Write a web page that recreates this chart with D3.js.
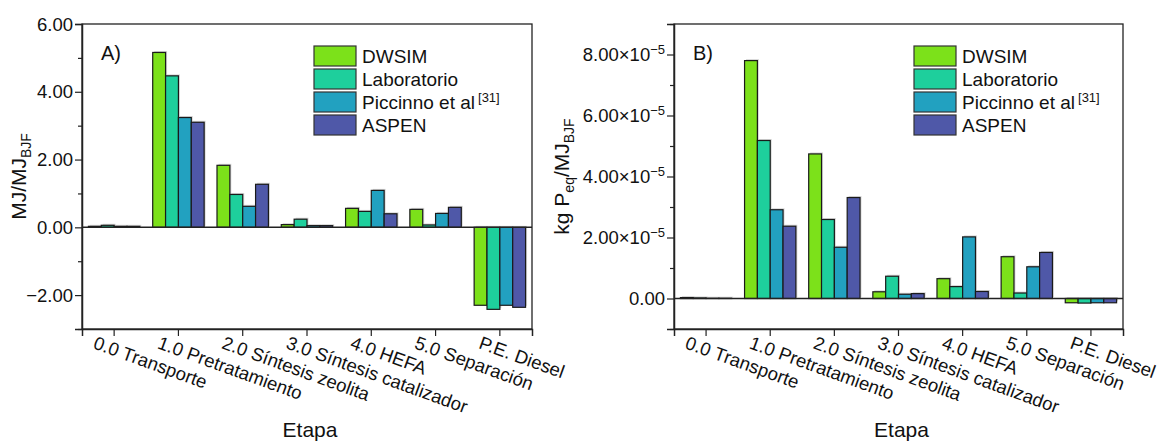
<!DOCTYPE html>
<html><head><meta charset="utf-8">
<script src="https://cdn.jsdelivr.net/npm/d3@7"></script>
<style>
body{margin:0;background:#fff;}
text{font-family:"Liberation Sans",Arial,sans-serif;fill:#111;}
</style></head>
<body><svg id="c" width="1159" height="441"></svg>
<script>
const categories = ["0.0 Transporte","1.0 Pretratamiento","2.0 Síntesis zeolita","3.0 Síntesis catalizador","4.0 HEFA","5.0 Separación","P.E. Diesel"];
const seriesNames = ["DWSIM","Laboratorio","Piccinno et al","ASPEN"];
const seriesColors = ["#7ce11a","#1ecf9c","#22a1c0","#4f58a8"];
// Panel A: MJ/MJ_BJF
const energyDWSIM = [0.03, 5.16, 1.83, 0.08, 0.56, 0.53, -2.30];
const energyLab   = [0.06, 4.47, 0.97, 0.24, 0.47, 0.07, -2.42];
const energyPicc  = [0.03, 3.24, 0.62, 0.05, 1.09, 0.41, -2.30];
const energyAspen = [0.03, 3.10, 1.27, 0.05, 0.40, 0.59, -2.36];
// Panel B: kg P_eq / MJ_BJF (units of 1e-5)
const phosDWSIM = [0.03, 7.80, 4.74, 0.22, 0.65, 1.37, -0.14];
const phosLab   = [0.02, 5.18, 2.59, 0.73, 0.39, 0.18, -0.15];
const phosPicc  = [0.01, 2.91, 1.68, 0.14, 2.02, 1.04, -0.14];
const phosAspen = [0.01, 2.37, 3.31, 0.16, 0.23, 1.51, -0.14];
const ticksA = [-2, 0, 2, 4, 6];
const minorA = [-3, -1, 1, 3, 5];
const ticksB = [0, 2, 4, 6, 8];
const minorB = [-1, 1, 3, 5, 7, 9];

const svg = d3.select("#c");
const FS = 18.5;   // tick & legend labels
const TS = 21;     // axis titles
const SS = 13;     // sub/superscripts

function panel(opt){
  const {left, right, top, bottom, domain, data, ticks, minor, fmt, label, legendX, title} = opt;
  const g = svg.append("g");
  const x = d3.scaleBand().domain(categories).range([left, right]).padding(0);
  const xs = d3.scaleBand().domain(seriesNames).range([0.1*x.bandwidth(), 0.9*x.bandwidth()]);
  const y = d3.scaleLinear().domain(domain).range([bottom, top]);

  // bar shadows + bars
  seriesNames.forEach((s, si) => {
    const vals = data[si];
    g.selectAll(null).data(vals).enter().append("rect")
      .attr("x", (d,i) => x(categories[i]) + xs(s) + 1.5)
      .attr("y", d => Math.min(y(d), y(0)) - 1.5)
      .attr("width", xs.bandwidth())
      .attr("height", d => Math.abs(y(d) - y(0)))
      .attr("fill", "#bbb").attr("opacity", 0.6);
  });
  seriesNames.forEach((s, si) => {
    const vals = data[si];
    g.selectAll(null).data(vals).enter().append("rect")
      .attr("x", (d,i) => x(categories[i]) + xs(s))
      .attr("y", d => Math.min(y(d), y(0)))
      .attr("width", xs.bandwidth())
      .attr("height", d => Math.abs(y(d) - y(0)))
      .attr("fill", seriesColors[si])
      .attr("stroke", "#1a1a1a").attr("stroke-width", 1.2);
  });
  // zero line
  g.append("line").attr("x1", left).attr("x2", right).attr("y1", y(0)).attr("y2", y(0))
    .attr("stroke", "#222").attr("stroke-width", 1.5);
  // frame
  g.append("rect").attr("x", left).attr("y", top).attr("width", right-left).attr("height", bottom-top)
    .attr("fill", "none").attr("stroke", "#222").attr("stroke-width", 1.3);

  // y axis
  const yAx = d3.axisLeft(y).tickValues(ticks).tickSize(7).tickFormat(() => "");
  const ya = g.append("g").attr("transform", `translate(${left},0)`).call(yAx);
  ya.select(".domain").attr("stroke", "#222").attr("stroke-width", 1.5);
  ya.selectAll(".tick line").attr("stroke", "#222").attr("stroke-width", 1.2);
  const yMin = d3.axisLeft(y).tickValues(minor).tickSize(4).tickFormat("");
  const ym = g.append("g").attr("transform", `translate(${left},0)`).call(yMin);
  ym.select(".domain").remove();
  ym.selectAll(".tick line").attr("stroke", "#222").attr("stroke-width", 1.2);
  ticks.forEach(t => {
    const tx = g.append("text").attr("x", left - 9).attr("y", y(t) + 6.5)
      .attr("text-anchor", "end").attr("font-size", FS);
    fmt(tx, t);
  });

  // x axis
  const xAx = d3.axisBottom(x).tickSize(7).tickFormat("");
  const xa = g.append("g").attr("transform", `translate(0,${bottom})`).call(xAx);
  xa.select(".domain").attr("stroke", "#222").attr("stroke-width", 1.5);
  xa.selectAll(".tick line").attr("stroke", "#222").attr("stroke-width", 1.2);
  categories.forEach(c => {
    const cx = x(c) + x.bandwidth()/2;
    g.append("text").attr("font-size", FS).attr("text-anchor", "start")
      .attr("transform", `translate(${cx - 22},${bottom + 19}) rotate(20)`)
      .text(c);
  });
  g.append("text").attr("x", (left+right)/2 + 3).attr("y", 437).attr("text-anchor", "middle")
    .attr("font-size", TS).text("Etapa");

  // panel label
  g.append("text").attr("x", left + 19).attr("y", 60).attr("font-size", 20).text(label);

  // y title
  title(g, (top+bottom)/2);

  // legend
  seriesNames.forEach((s, si) => {
    const ly = 46 + si*23;
    g.append("rect").attr("x", legendX).attr("y", ly).attr("width", 42).attr("height", 20)
      .attr("fill", seriesColors[si]).attr("stroke", "#333").attr("stroke-width", 1.2);
    const t = g.append("text").attr("x", legendX + 48).attr("y", ly + 17).attr("font-size", FS + 0.5).text(s);
    if (si === 2) t.append("tspan").attr("dx", 3).attr("dy", -7).attr("font-size", SS).text("[31]");
  });
}

panel({
  left: 82, right: 532, top: 24, bottom: 329, domain: [-3, 6],
  data: [energyDWSIM, energyLab, energyPicc, energyAspen],
  ticks: ticksA, minor: minorA,
  fmt: (t, v) => t.text(v < 0 ? "\u2212" + Math.abs(v).toFixed(2) : v.toFixed(2)),
  label: "A)", legendX: 314,
  title: (g, cy) => {
    const t = g.append("text").attr("font-size", TS)
      .attr("transform", `translate(26,${cy}) rotate(-90)`).attr("text-anchor", "middle");
    t.append("tspan").text("MJ/MJ");
    t.append("tspan").attr("dy", 5).attr("font-size", SS + 1).text("BJF");
  }
});

panel({
  left: 674, right: 1123, top: 24, bottom: 329, domain: [-1, 9],
  data: [phosDWSIM, phosLab, phosPicc, phosAspen],
  ticks: ticksB, minor: minorB,
  fmt: (t, v) => {
    if (v === 0) { t.text("0.00"); return; }
    t.append("tspan").text(v.toFixed(2) + "\u00d710");
    t.append("tspan").attr("dy", -7).attr("font-size", SS).text("\u22125");
  },
  label: "B)", legendX: 914,
  title: (g, cy) => {
    const t = g.append("text").attr("font-size", TS)
      .attr("transform", `translate(569,${cy}) rotate(-90)`).attr("text-anchor", "middle");
    t.append("tspan").text("kg P");
    t.append("tspan").attr("dy", 5).attr("font-size", SS + 1).text("eq");
    t.append("tspan").attr("dy", -5).text("/MJ");
    t.append("tspan").attr("dy", 5).attr("font-size", SS + 1).text("BJF");
  }
});
</script></body></html>
